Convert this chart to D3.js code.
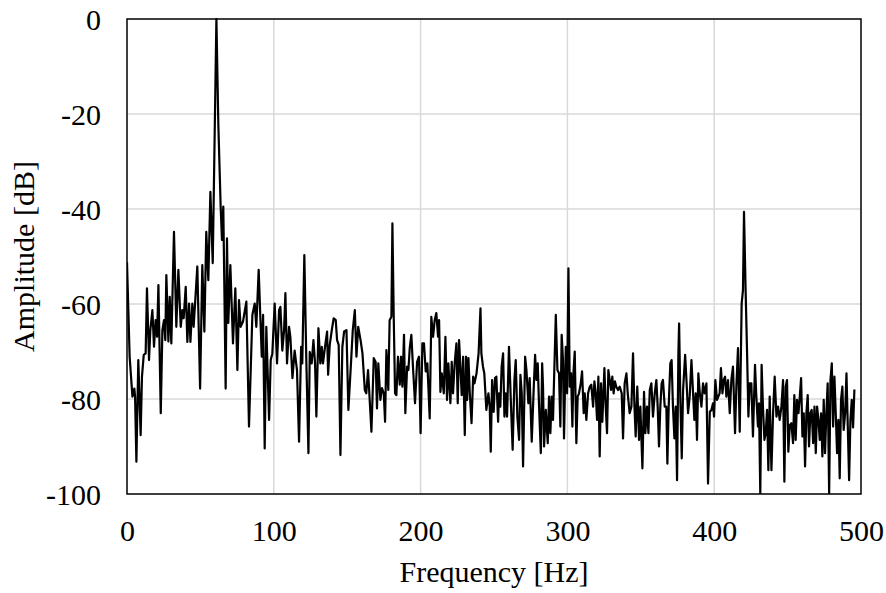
<!DOCTYPE html>
<html>
<head>
<meta charset="utf-8">
<script src="https://cdn.jsdelivr.net/npm/d3@7/dist/d3.min.js"></script>
<style>
  html, body { margin: 0; padding: 0; background: #ffffff; }
  svg { display: block; }
  text { font-family: "Liberation Serif", "Times New Roman", serif; fill: #000; }
</style>
</head>
<body>
<svg id="chart" width="886" height="593"></svg>
<script>
// ---- data ----
const xTicks = [0, 100, 200, 300, 400, 500];
const yTicks = [0, -20, -40, -60, -80, -100];
const xTitle = "Frequency [Hz]";
const yTitle = "Amplitude [dB]";

// [frequency Hz, amplitude dB]
const band0to100 = [
  [0,-51.2],[1.8,-71.1],[3.7,-79.5],[5.0,-77.8],[5.5,-79.5],[6.4,-93.2],[7.7,-71.8],[9.3,-87.6],
  [10.2,-75.3],[11.4,-70.7],[12.7,-70.4],[13.6,-56.7],[15,-71.8],[15.9,-65.5],[17.3,-61.3],[18.4,-69],
  [19.5,-63.4],[20.5,-66.9],[21.4,-56],[23,-83],[24.1,-65.5],[25.2,-63.4],[26.1,-67.6],[26.8,-53.9],
  [28.2,-67.9],[29.1,-58.5],[30.2,-68.3],[32,-44.8],[33.6,-64.8],[35,-52.8],[36.6,-64.8],[37.7,-61.3],
  [38.6,-63],[40,-56.4],[41.1,-68],[42.3,-59.9],[43.2,-68],[44.5,-59.9],[45.4,-64.8],[47.9,-52.1],
  [49.8,-77.8],[51.3,-51.8],[52.7,-65.8],[54,-44.8],[55.4,-55],[56.8,-36.4],[58.4,-51.4],[60.9,0],
  [62.2,-22],[63.8,-39.5],[64.7,-46.5],[65.6,-39.5],[67.2,-77.8],[68.1,-46.2],[69,-64],[70.4,-51.8],
  [72.2,-68.3],[73.8,-56.7],[75.2,-73.9],[76.3,-59.2],[77.4,-64.8],[79,-63.7],[81.3,-59.5],[83.1,-85.8],
  [85.4,-62.3],[87,-59.9],[88.1,-64.8],[89.7,-52.8],[90.9,-63.4],[91.8,-71.1],[92.7,-62.3],[93.8,-90.4],
  [94.9,-64.8],[96.8,-84.4],[97.9,-71.8],[99,-70.4]
];
const band100to200 = [
  [100.6,-59.9],[102.2,-72.5],[103.6,-61.3],[104.5,-60.6],[105.8,-69.8],[107,-65.5],[107.9,-57.7],
  [109,-72.5],[110.4,-64.8],[111.3,-67],[112.7,-75.6],[114.2,-69.8],[115.8,-73.9],[117.2,-89],
  [118.6,-69],[119.4,-72.5],[120.8,-49.7],[122.2,-72.5],[123.6,-91.4],[124.5,-70.1],[125.8,-72.5],
  [127,-67.6],[128.1,-72.5],[129,-83.7],[130.4,-65.1],[131.7,-72.5],[132.7,-69],[133.5,-72.5],
  [134.9,-69],[136.3,-65.8],[137,-74.9],[138.1,-68.6],[139.5,-65.5],[140.8,-63],[142.2,-63.4],
  [143.1,-67.6],[144.2,-68.6],[145.4,-91.8],[146.7,-69],[147.9,-65.8],[149.5,-65.5],[150.8,-82.3],
  [152.7,-71.8],[153.8,-65.5],[155.2,-61.3],[156.3,-71.1],[157.5,-64.8],[159.1,-67.6],[160.4,-70.4],
  [162,-78.1],[163,-78.8],[164.2,-73.9],[166.5,-86.9],[168.1,-71.4],[169.4,-72.2],[170.3,-82],
  [171.2,-72.5],[172.6,-80.2],[173.7,-77.7],[174.9,-78.8],[175.8,-84.8],[176.7,-69.7],[178,-78.1],
  [178.9,-63.4],[180.1,-62.7],[180.8,-43],[181.7,-62.7],[182.6,-78.8],[183.5,-79.2],[184.6,-71.1],
  [185.8,-77],[186.7,-71.1],[187.6,-77.4],[188.7,-66.5],[189.6,-83],[190.8,-73.2],[191.7,-73.9],
  [192.6,-69.3],[193.7,-66.5],[194.8,-73.2],[196.2,-80.9],[197.6,-72.2],[198.9,-71.1]
];
const band200to300 = [
  [200,-87.2],[201.2,-68.3],[202.3,-68.3],[203.5,-74.2],[204.6,-72.5],[206.2,-84.1],[207.3,-62.7],
  [208.5,-66.9],[209.6,-63.4],[210.7,-61.9],[211.9,-66.9],[212.6,-63.4],[213.5,-78.5],[214.4,-74.6],
  [215.8,-78.8],[216.9,-66.9],[218,-80.2],[218.9,-72.5],[220.3,-80.9],[221.2,-72.2],[222.1,-78.8],
  [223.2,-72.5],[224.4,-68.3],[225.3,-80.9],[226.2,-67.6],[227.1,-73.2],[228,-79.2],[229,-71.1],
  [230.1,-87.6],[231,-71.1],[231.7,-80.2],[232.6,-71.4],[233.5,-78.8],[234.7,-85.1],[235.8,-75.3],
  [236.7,-76.7],[238.1,-74.6],[239.5,-70.4],[240.8,-60.9],[241.4,-70.4],[242.5,-73.2],[243.4,-74.6],
  [244.8,-82.3],[246.2,-78.8],[247.1,-81.6],[247.8,-91.1],[248.7,-76],[249.8,-82.7],[250.7,-75.6],
  [251.6,-75.3],[252.8,-84.8],[253.4,-78.8],[254.3,-81.6],[255.2,-73.2],[256.2,-70.4],[257.1,-83.7],
  [258,-78.8],[258.9,-83.7],[260.2,-69],[261.6,-81.6],[262.7,-90.7],[263.9,-76],[264.8,-71.8],
  [265.9,-83.7],[267.1,-88.6],[268,-74.9],[268.9,-78.8],[269.8,-94.2],[271.2,-71.1],[272.1,-73.9],
  [273.4,-80.9],[274.3,-75.6],[275.7,-89],[277.1,-77.4],[278,-70.7],[278.9,-76],[279.8,-72.5],
  [280.7,-81.6],[281.9,-91.4],[282.8,-72.5],[283.4,-77.4],[284.1,-90],[285.3,-82.3],[286.6,-89.3],
  [287.5,-79.5],[288.4,-87.2],[289.3,-79.5],[290.2,-84.4],[290.9,-76],[292.1,-62.3],[293.2,-73.9],
  [294.3,-74.6],[295.2,-85.8],[296.1,-66.5],[297,-71.8],[297.7,-88.3],[298.9,-69],[299.8,-78.8]
];
const band300to400 = [
  [300.7,-52.5],[301.6,-77.4],[302.5,-74.6],[303.4,-85.8],[304.1,-74.6],[305,-70],[306.1,-89.3],
  [307,-79.5],[307.9,-78.8],[309.1,-76.7],[310,-74.2],[311.1,-83],[311.8,-78.8],[312.9,-84.4],
  [314.1,-78.8],[315.2,-77.4],[316.3,-77],[317.5,-81.6],[318.4,-76.3],[319.3,-78.8],[320.2,-84.4],
  [321.1,-75.3],[322,-92.1],[322.9,-76.7],[323.8,-84.8],[325.2,-73.5],[326.1,-81.6],[327,-87.2],
  [327.9,-73.9],[328.8,-76],[329.7,-78.1],[330.6,-75.3],[331.5,-78.8],[332.4,-76.3],[333.3,-77.4],
  [334.5,-78.1],[335.6,-77.4],[337,-78.8],[337.9,-88.3],[339,-76.7],[340.2,-74.6],[341.1,-78.8],
  [342.4,-83],[343.6,-81.6],[344.7,-70.4],[345.6,-80.9],[346.5,-87.9],[347.6,-77.4],[348.8,-88.6],
  [349.7,-81.6],[351.1,-94.6],[352.2,-78.5],[353.1,-87.2],[354.2,-81.6],[355.2,-87.2],[356.1,-78.1],
  [357.2,-76.7],[358.3,-83.7],[359.5,-78.8],[360.6,-76],[361.5,-81.6],[362.4,-90],[363.3,-81.6],
  [364.2,-76.7],[365.1,-76],[366.3,-81.6],[367.4,-81.6],[368.1,-93.6],[369,-81.6],[370.1,-72.5],
  [371,-71.8],[371.9,-81.6],[372.9,-88.3],[373.8,-81.6],[374.7,-97.1],[375.6,-70.4],[376.1,-64.1],
  [377,-80.9],[377.9,-92.5],[378.8,-78.1],[380.2,-70.7],[381.1,-76],[382.2,-83],[383.3,-79.5],
  [384.5,-71.8],[385.6,-78.8],[386.5,-84.4],[387.4,-78.8],[388.3,-88.6],[389.2,-74.6],[390.2,-78.8],
  [391.3,-81.6],[392.4,-76.7],[393.5,-78.8],[394.7,-76.7],[395.8,-97.8],[397,-82.7],[398.1,-82.3],
  [399.2,-80.9]
];
const band400to500 = [
  [399.9,-83.7],[400.8,-76],[401.9,-80.2],[402.8,-79.5],[403.7,-78.8],[404.6,-73.5],[405.6,-78.8],
  [406.5,-76],[407.4,-75.3],[408.3,-79.5],[409.4,-76],[410.6,-83],[411.7,-76],[412.8,-73.2],
  [414.2,-87.2],[415.1,-77.4],[416.2,-69.3],[417.4,-86.9],[418.7,-59.9],[419.6,-57.1],[420.3,-40.6],
  [421.4,-57.1],[422.4,-70.4],[423.3,-83.7],[424.2,-76.7],[425.3,-76.7],[426.4,-87.9],[427.8,-72.8],
  [428.7,-79.5],[429.8,-85.8],[430.5,-80.9],[431.4,-100],[432.3,-72.8],[433.2,-81.6],[434.2,-88.6],
  [435.1,-87.2],[436,-82.3],[436.9,-95],[437.8,-79.5],[439,-95],[440.1,-83],[441.2,-75.3],
  [442.4,-83.7],[443.5,-81.6],[444.6,-84.4],[445.8,-81.6],[446.9,-76],[447.8,-97.4],[448.7,-77.4],
  [449.6,-76],[450.5,-91.1],[451.5,-85.5],[452.6,-85.1],[453.7,-89.3],[454.6,-79.2],[455.5,-88.6],
  [456.4,-80.2],[457.4,-83],[458.3,-79.5],[459.2,-75.6],[460.1,-87.9],[461,-83],[461.9,-94.2],
  [462.8,-83],[463.7,-79.2],[464.6,-90],[465.5,-83],[466.4,-82.3],[467.4,-89.3],[468.3,-81.6],
  [469.2,-91.4],[470.1,-81.6],[471,-84.4],[471.9,-88.6],[472.8,-83],[473.7,-92.1],[474.6,-80.2],
  [475.5,-91.4],[476.4,-83],[477.3,-76.7],[478.3,-100],[479.2,-76],[480.1,-72.5],[481,-85.8],
  [481.9,-75.3],[482.8,-83],[483.7,-91.4],[484.6,-84.4],[485.5,-96.7],[486.4,-80.2],[487.3,-77.4],
  [488.2,-86.5],[489.2,-83],[490.1,-74.6],[491,-85.8],[491.9,-97.1],[492.8,-84.4],[493.7,-80.2],
  [494.6,-86],[495.5,-78]
];
const spectrum = [].concat(band0to100, band100to200, band200to300, band300to400, band400to500);

// ---- layout ----
const svg = d3.select("#chart");
const plotLeft = 127, plotRight = 861, plotTop = 19, plotBottom = 494;
const fontSize = 30;

const x = d3.scaleLinear().domain([0, 500]).range([plotLeft, plotRight]);
const y = d3.scaleLinear().domain([-100, 0]).range([plotBottom, plotTop]);

// gridlines
svg.append("g").selectAll("line")
  .data(xTicks.filter(d => d > 0 && d < 500)).join("line")
  .attr("x1", d => x(d)).attr("x2", d => x(d))
  .attr("y1", plotTop).attr("y2", plotBottom)
  .attr("stroke", "#d9d9d9").attr("stroke-width", 1.5);
svg.append("g").selectAll("line")
  .data(yTicks.filter(d => d < 0 && d > -100)).join("line")
  .attr("x1", plotLeft).attr("x2", plotRight)
  .attr("y1", d => y(d)).attr("y2", d => y(d))
  .attr("stroke", "#d9d9d9").attr("stroke-width", 1.5);

// clip
svg.append("clipPath").attr("id", "plotclip")
  .append("rect").attr("x", plotLeft).attr("y", plotTop - 1)
  .attr("width", plotRight - plotLeft).attr("height", plotBottom - plotTop + 1);

// data line
const line = d3.line().x(d => x(d[0])).y(d => y(d[1]));
svg.append("path")
  .datum(spectrum)
  .attr("clip-path", "url(#plotclip)")
  .attr("fill", "none")
  .attr("stroke", "#000")
  .attr("stroke-width", 2.2)
  .attr("stroke-linejoin", "round")
  .attr("d", line);

// border
svg.append("rect")
  .attr("x", plotLeft).attr("y", plotTop)
  .attr("width", plotRight - plotLeft).attr("height", plotBottom - plotTop)
  .attr("fill", "none").attr("stroke", "#000").attr("stroke-width", 1.5);

// axes (labels only)
const xAxis = d3.axisBottom(x).tickValues(xTicks).tickSize(0).tickPadding(0)
  .tickFormat(d => String(d));
const gx = svg.append("g").attr("transform", `translate(0,${plotBottom})`).call(xAxis);
gx.select(".domain").remove();
gx.selectAll("text").attr("font-size", fontSize).attr("font-family", "Liberation Serif")
  .attr("dy", null).attr("y", 47).attr("fill", "#000");

const yAxis = d3.axisLeft(y).tickValues(yTicks).tickSize(0).tickPadding(0)
  .tickFormat(d => String(d));
const gy = svg.append("g").attr("transform", `translate(${plotLeft},0)`).call(yAxis);
gy.select(".domain").remove();
gy.selectAll("text").attr("font-size", fontSize).attr("font-family", "Liberation Serif")
  .attr("x", -26).attr("dy", "0.34em").attr("fill", "#000");

// titles
svg.append("text")
  .attr("x", (plotLeft + plotRight) / 2).attr("y", 582)
  .attr("text-anchor", "middle").attr("font-size", fontSize)
  .text(xTitle);
svg.append("text")
  .attr("transform", `translate(34,${(plotTop + plotBottom) / 2}) rotate(-90)`)
  .attr("text-anchor", "middle").attr("font-size", fontSize)
  .text(yTitle);
</script>
</body>
</html>
